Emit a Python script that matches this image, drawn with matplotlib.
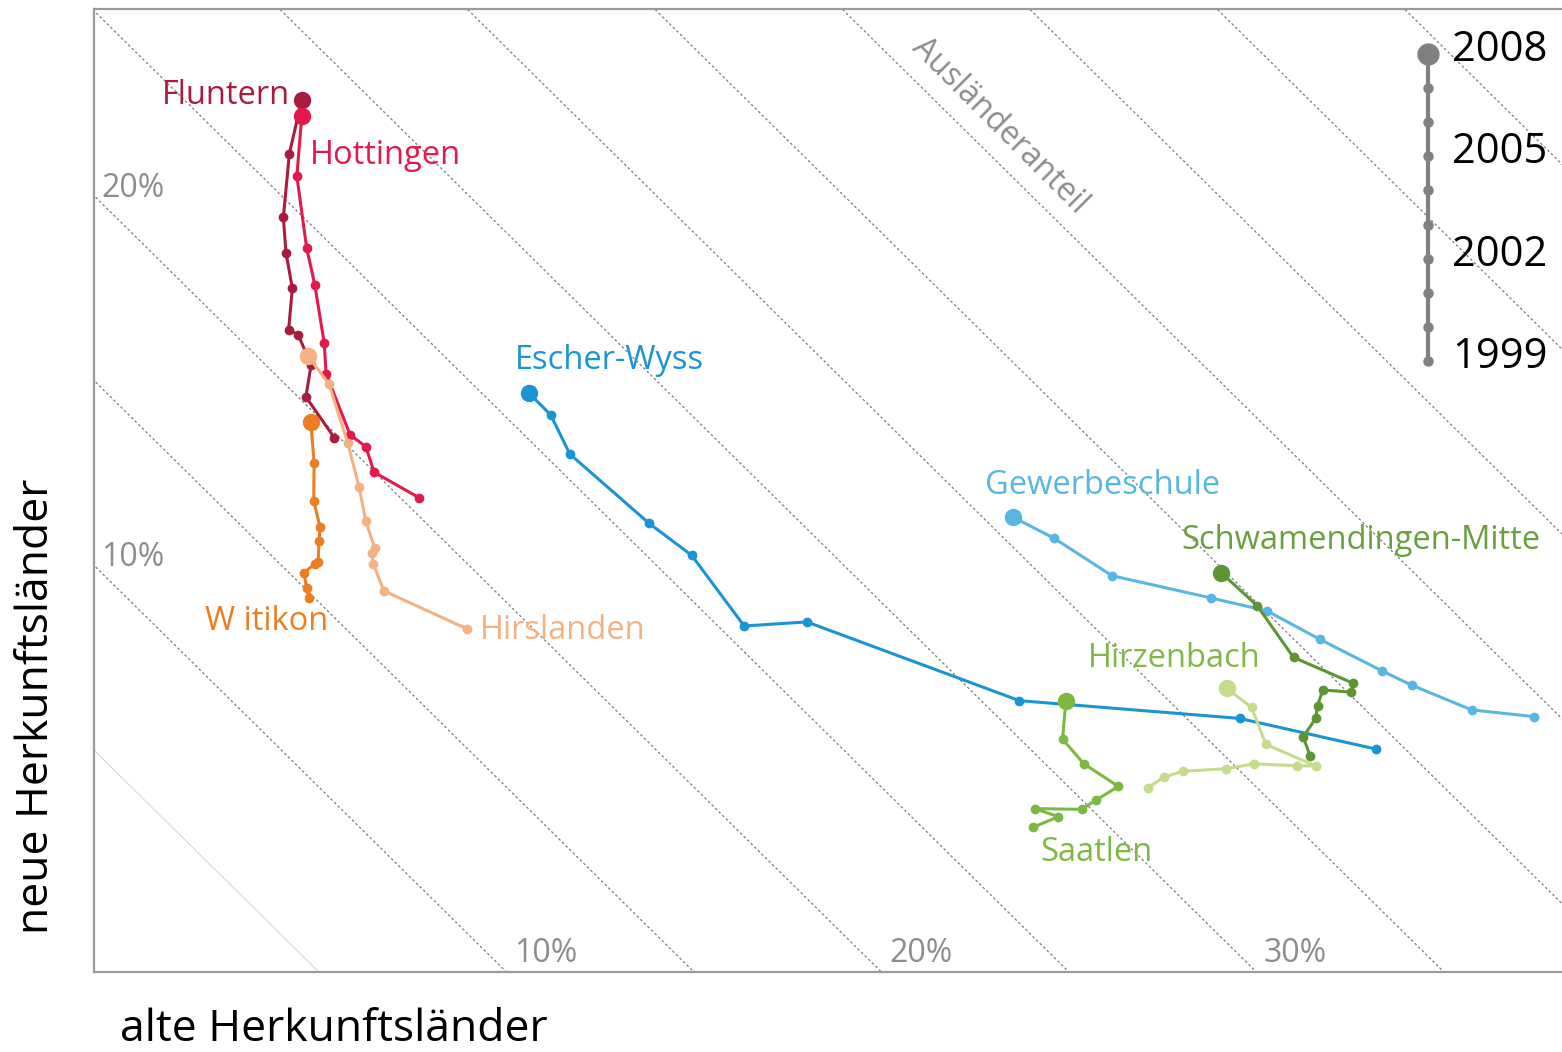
import matplotlib.pyplot as plt
import numpy as np

plt.rcParams['font.family'] = ['Open Sans', 'DejaVu Sans']

# years 1999..2008, last point is 2008
years = [1999, 2000, 2001, 2002, 2003, 2004, 2005, 2006, 2007, 2008]
year_labels = [1999, 2002, 2005, 2008]

# share of foreigners from "old" (x) and "new" (y) countries of origin, in %
fluntern_x = [5.41, 4.65, 4.79, 4.45, 4.19, 4.29, 4.12, 4.05, 4.21, 4.54]
fluntern_y = [14.45, 15.56, 16.42, 17.23, 17.38, 18.49, 19.46, 20.41, 22.14, 23.59]
hottingen_x = [7.67, 6.47, 6.25, 5.83, 5.19, 5.14, 4.89, 4.67, 4.41, 4.54]
hottingen_y = [12.83, 13.52, 14.21, 14.53, 16.18, 17.01, 18.58, 19.59, 21.53, 23.15]
hirslanden_x = [8.95, 6.73, 6.45, 6.41, 6.49, 6.25, 6.07, 5.77, 5.27, 4.71]
hirslanden_y = [9.28, 10.31, 11.03, 11.33, 11.46, 12.19, 13.12, 14.30, 15.90, 16.66]
witikon_x = [4.73, 4.67, 4.60, 4.89, 4.98, 5.00, 5.03, 4.86, 4.87, 4.78]
witikon_y = [10.12, 10.38, 10.80, 11.04, 11.10, 11.65, 12.03, 12.74, 13.78, 14.89]
escher_x = [33.19, 29.55, 23.68, 18.01, 16.34, 14.94, 13.80, 11.69, 11.18, 10.61]
escher_y = [6.03, 6.86, 7.34, 9.47, 9.36, 11.27, 12.14, 14.01, 15.07, 15.65]
gewerbe_x = [37.39, 35.74, 34.14, 33.36, 31.69, 30.28, 28.78, 26.15, 24.61, 23.52]
gewerbe_y = [6.91, 7.09, 7.76, 8.14, 9.00, 9.77, 10.12, 10.72, 11.73, 12.30]
schwam_x = [31.43, 31.25, 31.58, 31.63, 31.77, 32.53, 32.58, 30.99, 30.02, 29.06]
schwam_y = [5.85, 6.36, 6.86, 7.20, 7.63, 7.57, 7.81, 8.51, 9.91, 10.80]
saatlen_x = [24.03, 24.72, 24.09, 25.34, 25.72, 26.32, 25.40, 24.83, 24.92]
saatlen_y = [3.91, 4.20, 4.42, 4.40, 4.65, 5.02, 5.63, 6.30, 7.34]
hirzen_x = [27.11, 27.53, 28.03, 29.19, 29.93, 31.09, 31.59, 30.25, 29.87, 29.21]
hirzen_y = [4.99, 5.27, 5.43, 5.50, 5.63, 5.58, 5.57, 6.16, 7.16, 7.67]

# name, x, y, line colour, label colour, label position
districts = [
    ('Fluntern', fluntern_x, fluntern_y, '#A81C3D', '#A81C3D', (0.81, 23.72)),
    ('Hottingen', hottingen_x, hottingen_y, '#E2194A', '#E2194A', (4.76, 22.10)),
    ('Hirslanden', hirslanden_x, hirslanden_y, '#F4B182', '#F4B182', (9.29, 9.25)),
    ('W itikon', witikon_x, witikon_y, '#EE7D21', '#EE7D21', (1.96, 9.47)),
    ('Escher-Wyss', escher_x, escher_y, '#1A94D3', '#1A94D3', (10.23, 16.55)),
    ('Gewerbeschule', gewerbe_x, gewerbe_y, '#57B7E2', '#57B7E2', (22.76, 13.15)),
    ('Schwamendingen-Mitte', schwam_x, schwam_y, '#5D9534', '#6A9E3E', (28.01, 11.66)),
    ('Hirzenbach', hirzen_x, hirzen_y, '#C6DC8C', '#80B847', (25.51, 8.49)),
    ('Saatlen', saatlen_x, saatlen_y, '#7DB843', '#7DB843', (24.23, 3.22)),
]

shares = np.arange(5, 70, 5)
labeled_shares = [10, 20, 30]

fig = plt.figure(figsize=(15.62, 10.52), dpi=100)
ax = fig.add_axes([94 / 1562, 80 / 1052, 1468 / 1562, 963 / 1052])
xmin, xmax = -1.0, 38.15
ymin, ymax = 0.0, 26.05
ax.set_xlim(xmin, xmax)
ax.set_ylim(ymin, ymax)

# iso-lines of total foreigner share (x + y = const)
for c in shares:
    xs = np.array([xmin - 1, xmax + 1])
    if c == 5:
        ax.plot(xs, c - xs, color='#d8d8d8', lw=0.8, zorder=1)
    else:
        ax.plot(xs, c - xs, color='#7a7a7a', lw=0.9, ls=(0, (2, 2)), zorder=1)

for c in labeled_shares:
    ax.text(c + 0.2, 0.5, f'{c}%', color='#8c8c8c', fontsize=23,
            ha='left', va='center')
    if c + 1.2 < ymax:
        ax.text(-0.8, c + 1.2, f'{c}%', color='#8c8c8c', fontsize=23,
                ha='left', va='center')

ax.text(23.16, 22.9, 'Ausländeranteil', color='#8c8c8c', fontsize=23,
        rotation=-45, ha='center', va='center', rotation_mode='anchor')

for name, xs, ys, col, lcol, pos in districts:
    ax.plot(xs, ys, color=col, lw=2.2, marker='o', ms=6, zorder=3)
    ax.plot(xs[-1], ys[-1], 'o', color=col, ms=11.5, zorder=4)
    ax.text(pos[0], pos[1], name, color=lcol, fontsize=23.5, ha='left', va='center')

# year legend
lx = (1428 - 94) / 1468
ly = np.linspace(0.6345, 0.9533, len(years))
ax.plot([lx, lx], [ly[0], ly[-1]], color='#808080', lw=3, transform=ax.transAxes,
        zorder=5, clip_on=False)
ax.plot([lx] * len(years), ly, 'o', color='#808080', ms=6.5, transform=ax.transAxes,
        zorder=5, clip_on=False)
ax.plot(lx, ly[-1], 'o', color='#808080', ms=15, transform=ax.transAxes, zorder=6,
        clip_on=False)
for yr in year_labels:
    i = years.index(yr)
    ax.text((1452 - 94) / 1468, ly[i] + 0.004, str(yr), fontsize=30, color='black',
            ha='left', va='center', transform=ax.transAxes)

for side in ['left', 'bottom', 'top']:
    ax.spines[side].set_color('#9a9a9a')
    ax.spines[side].set_linewidth(1.6)
ax.spines['right'].set_visible(False)
ax.set_xticks([])
ax.set_yticks([])

fig.text(37 / 1562, 1 - 706 / 1052, 'neue Herkunftsländer', rotation=90,
         fontsize=32, ha='center', va='center')
fig.text(120 / 1562, 1 - 1030 / 1052, 'alte Herkunftsländer', fontsize=32,
         ha='left', va='center')

fig.savefig('out.png', dpi=100)
